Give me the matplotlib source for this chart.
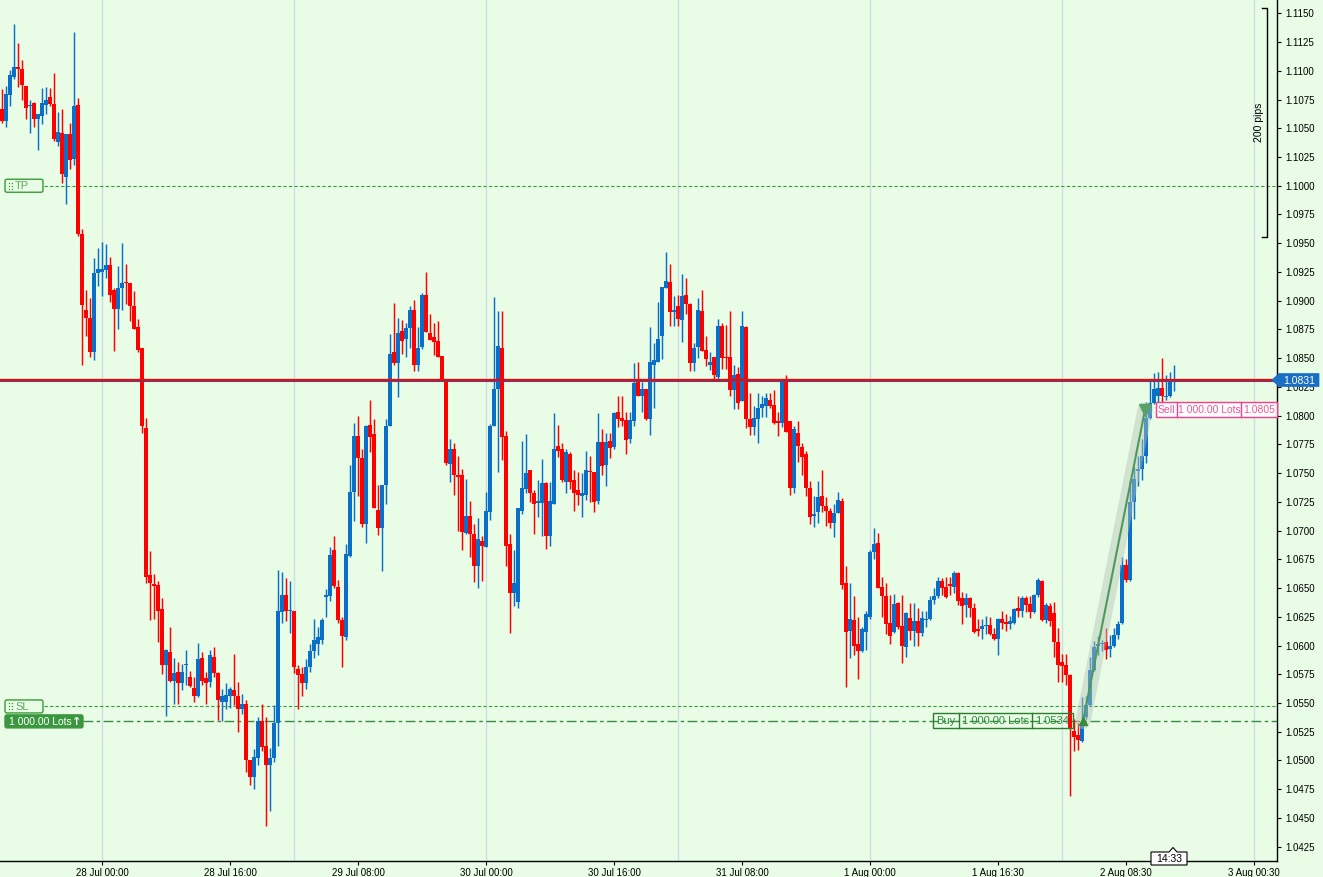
import numpy as np
import matplotlib
matplotlib.use("Agg")
import matplotlib.pyplot as plt
from matplotlib.patches import Rectangle, FancyBboxPatch, Polygon

plt.rcParams['font.family'] = ['Liberation Sans', 'DejaVu Sans']

# 30-minute candles, prices in units of 0.0001
opens = [
    11067, 11056, 11079, 11095, 11103, 11102, 11087, 11069, 11072, 11058,
    11061, 11070, 11077, 11071, 11038, 11046, 11008, 11045, 11023, 11070,
    10958, 10892, 10885, 10855, 10924, 10925, 10927, 10931, 10909, 10893,
    10911, 10916, 10915, 10895, 10877, 10859, 10789, 10661, 10653, 10653,
    10632, 10583, 10594, 10569, 10577, 10567, 10583, 10573, 10563, 10556,
    10589, 10572, 10568, 10590, 10576, 10551, 10551, 10556, 10561, 10556,
    10545, 10549, 10500, 10486, 10502, 10534, 10513, 10496, 10502, 10533,
    10629, 10644, 10630, 10630, 10580, 10575, 10567, 10581, 10595, 10601,
    10605, 10642, 10643, 10683, 10651, 10622, 10607, 10678, 10734, 10782,
    10763, 10706, 10792, 10784, 10718, 10702, 10740, 10791, 10855, 10846,
    10874, 10867, 10876, 10892, 10844, 10860, 10905, 10872, 10868, 10865,
    10852, 10832, 10758, 10771, 10748, 10748, 10698, 10713, 10697, 10669,
    10691, 10686, 10716, 10791, 10823, 10859, 10782, 10688, 10646, 10638,
    10717, 10736, 10753, 10733, 10724, 10724, 10741, 10695, 10723, 10774,
    10771, 10742, 10767, 10744, 10735, 10730, 10731, 10752, 10751, 10726,
    10777, 10757, 10778, 10773, 10803, 10798, 10796, 10780, 10795, 10829,
    10817, 10823, 10797, 10844, 10847, 10869, 10911, 10916, 10890, 10895,
    10883, 10905, 10897, 10846, 10860, 10891, 10857, 10844, 10851, 10834,
    10878, 10851, 10851, 10822, 10836, 10813, 10877, 10797, 10790, 10797,
    10807, 10808, 10814, 10809, 10795, 10794, 10831, 10795, 10737, 10785,
    10773, 10767, 10737, 10713, 10716, 10730, 10721, 10717, 10707, 10715,
    10726, 10654, 10613, 10622, 10601, 10595, 10612, 10625, 10681, 10689,
    10651, 10643, 10620, 10612, 10637, 10617, 10599, 10624, 10613, 10621,
    10611, 10622, 10623, 10640, 10643, 10656, 10651, 10653, 10651, 10663,
    10641, 10635, 10641, 10633, 10614, 10614, 10617, 10618, 10610, 10606,
    10623, 10620, 10619, 10620, 10633, 10630, 10641, 10636, 10629, 10644,
    10656, 10622, 10634, 10628, 10603, 10586, 10583, 10574, 10526, 10522,
    10517, 10538, 10548, 10579, 10600, 10601, 10603, 10597, 10600, 10609,
    10620, 10670, 10657, 10725, 10752, 10754, 10765, 10798, 10811, 10817,
    10824, 10816, 10817, 10829,
]
highs = [
    11084, 11087, 11101, 11141, 11124, 11109, 11087, 11075, 11073, 11062,
    11085, 11086, 11085, 11098, 11064, 11067, 11045, 11055, 11134, 11076,
    10962, 10909, 10902, 10937, 10946, 10951, 10949, 10938, 10911, 10930,
    10950, 10932, 10915, 10908, 10884, 10859, 10798, 10682, 10662, 10656,
    10641, 10597, 10616, 10589, 10586, 10584, 10596, 10578, 10573, 10602,
    10594, 10577, 10596, 10599, 10577, 10562, 10567, 10564, 10593, 10568,
    10558, 10553, 10500, 10510, 10538, 10549, 10538, 10511, 10548, 10666,
    10664, 10659, 10656, 10630, 10583, 10581, 10588, 10601, 10623, 10616,
    10624, 10649, 10686, 10695, 10657, 10625, 10688, 10757, 10794, 10800,
    10771, 10792, 10814, 10797, 10740, 10740, 10797, 10871, 10898, 10885,
    10883, 10881, 10895, 10901, 10877, 10907, 10925, 10888, 10881, 10882,
    10852, 10832, 10780, 10776, 10765, 10754, 10745, 10726, 10706, 10711,
    10695, 10734, 10793, 10903, 10891, 10891, 10787, 10697, 10683, 10720,
    10778, 10784, 10753, 10735, 10744, 10762, 10742, 10742, 10802, 10792,
    10776, 10771, 10768, 10753, 10751, 10750, 10769, 10765, 10751, 10802,
    10788, 10785, 10785, 10803, 10817, 10817, 10803, 10803, 10846, 10847,
    10829, 10823, 10877, 10863, 10899, 10912, 10942, 10932, 10904, 10905,
    10923, 10920, 10898, 10863, 10902, 10909, 10869, 10855, 10851, 10884,
    10881, 10879, 10891, 10844, 10842, 10891, 10878, 10820, 10808, 10820,
    10817, 10820, 10820, 10822, 10803, 10831, 10835, 10795, 10791, 10795,
    10776, 10769, 10743, 10730, 10743, 10753, 10729, 10720, 10723, 10734,
    10728, 10669, 10654, 10643, 10625, 10616, 10630, 10683, 10702, 10698,
    10660, 10654, 10644, 10645, 10638, 10644, 10629, 10637, 10637, 10633,
    10630, 10630, 10643, 10650, 10660, 10659, 10660, 10660, 10665, 10664,
    10647, 10646, 10642, 10637, 10623, 10623, 10626, 10625, 10615, 10624,
    10630, 10627, 10626, 10633, 10643, 10643, 10643, 10643, 10645, 10659,
    10657, 10637, 10637, 10638, 10615, 10593, 10593, 10575, 10536, 10533,
    10555, 10556, 10590, 10604, 10608, 10605, 10615, 10609, 10615, 10621,
    10677, 10675, 10744, 10755, 10765, 10780, 10812, 10832, 10837, 10838,
    10850, 10835, 10838, 10844,
]
lows = [
    11055, 11051, 11069, 11093, 11086, 11075, 11058, 11046, 11051, 11031,
    11054, 11062, 11069, 11039, 11035, 11002, 10984, 11015, 11018, 10956,
    10844, 10869, 10851, 10848, 10913, 10904, 10920, 10899, 10856, 10875,
    10892, 10897, 10882, 10875, 10855, 10785, 10654, 10622, 10623, 10603,
    10575, 10539, 10568, 10549, 10549, 10561, 10566, 10564, 10551, 10555,
    10566, 10549, 10564, 10573, 10535, 10534, 10545, 10546, 10548, 10525,
    10540, 10490, 10479, 10475, 10496, 10508, 10443, 10456, 10499, 10513,
    10620, 10621, 10611, 10576, 10545, 10556, 10562, 10577, 10589, 10592,
    10601, 10625, 10639, 10650, 10620, 10581, 10605, 10677, 10708, 10730,
    10703, 10689, 10768, 10720, 10696, 10665, 10723, 10791, 10844, 10816,
    10854, 10851, 10859, 10839, 10839, 10858, 10873, 10866, 10853, 10851,
    10830, 10757, 10742, 10731, 10700, 10683, 10697, 10677, 10655, 10650,
    10656, 10686, 10709, 10791, 10751, 10761, 10669, 10611, 10634, 10633,
    10714, 10733, 10725, 10697, 10712, 10695, 10684, 10687, 10723, 10764,
    10742, 10733, 10736, 10717, 10722, 10712, 10727, 10725, 10716, 10723,
    10748, 10739, 10763, 10771, 10790, 10791, 10767, 10776, 10791, 10817,
    10803, 10796, 10783, 10807, 10847, 10849, 10911, 10878, 10878, 10878,
    10864, 10888, 10839, 10839, 10850, 10856, 10843, 10840, 10831, 10831,
    10841, 10841, 10817, 10806, 10806, 10813, 10789, 10783, 10783, 10776,
    10799, 10799, 10807, 10793, 10782, 10790, 10786, 10731, 10733, 10760,
    10748, 10730, 10706, 10703, 10707, 10716, 10704, 10702, 10694, 10715,
    10649, 10564, 10589, 10592, 10571, 10594, 10596, 10623, 10675, 10650,
    10625, 10610, 10601, 10611, 10614, 10585, 10590, 10605, 10600, 10600,
    10608, 10616, 10622, 10636, 10641, 10644, 10641, 10644, 10646, 10635,
    10619, 10625, 10625, 10611, 10608, 10606, 10610, 10609, 10605, 10592,
    10614, 10613, 10614, 10619, 10625, 10625, 10629, 10624, 10628, 10642,
    10621, 10620, 10617, 10590, 10568, 10568, 10566, 10469, 10508, 10509,
    10516, 10536, 10547, 10578, 10592, 10595, 10588, 10590, 10599, 10606,
    10619, 10655, 10656, 10710, 10739, 10744, 10759, 10797, 10810, 10811,
    10812, 10814, 10816, 10821,
]
closes = [
    11056, 11080, 11096, 11103, 11102, 11088, 11068, 11070, 11058, 11062,
    11072, 11075, 11071, 11041, 11047, 11010, 11045, 11022, 11069, 10958,
    10896, 10885, 10855, 10924, 10928, 10928, 10931, 10905, 10893, 10911,
    10915, 10915, 10895, 10875, 10857, 10791, 10660, 10654, 10652, 10630,
    10583, 10596, 10569, 10576, 10567, 10577, 10584, 10565, 10556, 10588,
    10569, 10567, 10592, 10576, 10553, 10556, 10557, 10562, 10556, 10545,
    10549, 10500, 10486, 10503, 10534, 10512, 10496, 10502, 10533, 10630,
    10644, 10630, 10631, 10581, 10574, 10567, 10581, 10595, 10605, 10607,
    10622, 10644, 10679, 10652, 10622, 10608, 10680, 10734, 10782, 10763,
    10706, 10791, 10781, 10720, 10702, 10740, 10791, 10854, 10846, 10872,
    10865, 10876, 10892, 10844, 10859, 10905, 10873, 10866, 10864, 10851,
    10831, 10759, 10771, 10748, 10747, 10699, 10713, 10697, 10669, 10693,
    10687, 10717, 10791, 10823, 10861, 10781, 10687, 10646, 10654, 10720,
    10737, 10750, 10733, 10723, 10726, 10741, 10695, 10726, 10771, 10769,
    10744, 10768, 10742, 10733, 10731, 10733, 10753, 10751, 10725, 10777,
    10756, 10777, 10772, 10802, 10797, 10795, 10779, 10796, 10828, 10817,
    10823, 10797, 10847, 10848, 10867, 10912, 10917, 10890, 10892, 10884,
    10904, 10897, 10846, 10859, 10892, 10856, 10849, 10847, 10835, 10878,
    10850, 10850, 10822, 10835, 10811, 10878, 10797, 10790, 10798, 10807,
    10810, 10815, 10808, 10794, 10794, 10831, 10786, 10737, 10788, 10774,
    10764, 10737, 10712, 10714, 10729, 10721, 10717, 10707, 10715, 10727,
    10653, 10612, 10623, 10600, 10595, 10614, 10627, 10681, 10688, 10650,
    10643, 10619, 10608, 10636, 10616, 10600, 10628, 10613, 10621, 10611,
    10624, 10623, 10640, 10643, 10656, 10650, 10642, 10652, 10663, 10639,
    10634, 10641, 10633, 10612, 10613, 10617, 10618, 10610, 10606, 10623,
    10620, 10619, 10621, 10632, 10630, 10641, 10635, 10629, 10644, 10657,
    10622, 10635, 10621, 10603, 10583, 10582, 10574, 10527, 10520, 10518,
    10533, 10548, 10579, 10599, 10601, 10602, 10596, 10600, 10609, 10619,
    10670, 10657, 10725, 10745, 10754, 10765, 10798, 10811, 10823, 10824,
    10817, 10817, 10829, 10831,
]

x_labels = ['28 Jul 00:00', '28 Jul 16:00', '29 Jul 08:00', '30 Jul 00:00',
            '30 Jul 16:00', '31 Jul 08:00', '1 Aug 00:00', '1 Aug 16:30',
            '2 Aug 08:30', '3 Aug 00:30']
first_label_idx = 25

current_price = 1.0831
tp_price = 1.1000
sl_price = 1.0547
buy_price = 1.0534
sell_price = 1.0805
buy_idx, sell_idx = 270.25, 285.75
ruler_top, ruler_bottom = 1.1155, 1.0955

o = np.array(opens) / 1e4
h = np.array(highs) / 1e4
l = np.array(lows) / 1e4
c = np.array(closes) / 1e4
idx = np.arange(len(c))

BG = '#e8fce6'
RED = '#ff0000'
BLUE = '#0a6fc7'
GREEN = '#3a9a3a'
PINK = '#ff3b8d'

W, H = 1323, 877
AX_R, AX_B = 1277, 860.7
YMAX, YMIN = 1.11616, 1.04128
XMIN, XMAX = -0.5, 318.75

fig = plt.figure(figsize=(W / 100, H / 100), dpi=100, facecolor=BG)
ax = fig.add_axes([0, 1 - AX_B / H, AX_R / W, AX_B / H], facecolor=BG)
ax.set_xlim(XMIN, XMAX)
ax.set_ylim(YMIN, YMAX)

for s in ['left', 'top']:
    ax.spines[s].set_visible(False)
ax.spines['right'].set_linewidth(1)
ax.spines['bottom'].set_linewidth(1)

# daily grid lines
for g in range(first_label_idx, 320, 48):
    ax.axvline(g, color='#cddfe2', lw=1, zorder=0)

# candles
up = c >= o
cols = np.where(up, BLUE, RED)
ax.vlines(idx, l, h, colors=cols, lw=1.05, zorder=2)
body_lo = np.minimum(o, c)
body_h = np.maximum(np.abs(c - o), 0.00012)
ax.bar(idx, body_h, bottom=body_lo, width=0.8, color=cols, linewidth=0, zorder=3)

# price lines
ax.axhline(current_price - 0.00012, color='#1f5fae', lw=0.8, zorder=4)
ax.axhline(current_price, color=RED, lw=1.6, zorder=4)
ax.axhline(tp_price, xmin=44 / AX_R, color=GREEN, lw=0.8, dashes=(3, 2), zorder=1)
ax.axhline(sl_price, xmin=44 / AX_R, color=GREEN, lw=0.8, dashes=(3, 2), zorder=1)
ax.axhline(buy_price, xmin=83 / AX_R, color='#3d8a43', lw=1.0,
           dashes=(7, 2.5, 2.5, 2.5), zorder=1)

# trade path
ax.plot([buy_idx, sell_idx], [buy_price, sell_price], color='#b8c4b8', lw=11,
        alpha=0.45, solid_capstyle='round', zorder=5)
ax.plot([buy_idx, sell_idx], [buy_price, sell_price], color='#4c9a5c', lw=1.5, zorder=6)
ax.plot([buy_idx], [buy_price], marker='^', ms=6, color='#3a8a3a', zorder=7)
ax.plot([sell_idx], [sell_price], marker='v', ms=9, color='#5aa06a', zorder=7)

# axes ticks
yt = np.arange(1.0425, 1.11501, 0.0025)
ax.set_yticks(yt)
ax.set_yticklabels([f'{v:.4f}' for v in yt])
ax.yaxis.tick_right()
ax.set_xticks(np.arange(len(x_labels)) * 32 + first_label_idx)
ax.set_xticklabels(x_labels)
ax.tick_params(axis='both', labelsize=7, length=3, width=0.8, color='black')
ax.tick_params(axis='y', pad=3)
ax.tick_params(axis='x', pad=2)

# overlay in pixel coordinates for labels
ov = fig.add_axes([0, 0, 1, 1], facecolor='none')
ov.set_xlim(0, W)
ov.set_ylim(H, 0)
ov.axis('off')


def py(p):
    return (YMAX - p) / (YMAX - YMIN) * AX_B


def small_tag(price, text):
    y = py(price)
    ov.add_patch(FancyBboxPatch((5, y - 6.5), 38, 13, boxstyle='round,pad=0,rounding_size=2',
                                fc=BG, ec=GREEN, lw=1))
    for dx in (9, 11.5):
        for dy in (-3, 0, 3):
            ov.plot(dx, y + dy, marker='s', ms=0.9, color=GREEN, mew=0)
    ov.text(22, y + 0.5, text, color='#5fa75f', fontsize=8, ha='center', va='center')


small_tag(tp_price, 'TP')
small_tag(sl_price, 'SL')

yb = py(buy_price)
ov.add_patch(FancyBboxPatch((5, yb - 6.5), 78, 13, boxstyle='round,pad=0,rounding_size=2',
                            fc='#3b973f', ec='#3b973f', lw=1))
ov.text(40, yb + 0.5, '1 000.00 Lots', color='white', fontsize=7.5, ha='center', va='center')
ov.text(77, yb + 0.5, '↑', color='white', fontsize=8, ha='center', va='center',
        fontweight='bold', family=['DejaVu Sans'])

# buy label
ov.add_patch(Rectangle((933, yb - 8), 140, 15, fc='none', ec='#2a7d2a', lw=1))
for xd in (959, 1032):
    ov.plot([xd, xd], [yb - 8, yb + 7], color='#2a7d2a', lw=1)
ov.text(946, yb, 'Buy', color='#2e8b3a', fontsize=8, ha='center', va='center')
ov.text(995.5, yb, '1 000.00 Lots', color='#2e8b3a', fontsize=8, ha='center', va='center')
ov.text(1052.5, yb, f'{buy_price:.4f}', color='#2e8b3a', fontsize=8, ha='center', va='center')

# sell label
ys = py(sell_price)
ov.add_patch(Rectangle((1156, ys - 7.5), 121, 15, fc='white', ec=PINK, lw=1, zorder=8))
for xd in (1177, 1241):
    ov.plot([xd, xd], [ys - 7.5, ys + 7.5], color=PINK, lw=1, zorder=9)
ov.text(1166.5, ys, 'Sell', color='#f0559a', fontsize=7.5, ha='center', va='center', zorder=9)
ov.text(1209, ys, '1 000.00 Lots', color='#f0559a', fontsize=7.5, ha='center', va='center', zorder=9)
ov.text(1259, ys, f'{sell_price:.4f}', color='#f0559a', fontsize=7.5, ha='center', va='center', zorder=9)

# current price tag
yc = py(current_price)
ov.add_patch(Polygon([(1272, yc), (1279, yc - 6.5), (1319, yc - 6.5), (1319, yc + 6.5),
                      (1279, yc + 6.5)], closed=True, fc='#1a6fc4', ec='#1a6fc4', lw=0.5))
ov.text(1299, yc + 0.5, f'{current_price:.4f}', color='white', fontsize=7.5,
        ha='center', va='center')

# 200 pips ruler
yt0, yt1 = py(ruler_top), py(ruler_bottom)
ov.plot([1262, 1266.5, 1266.5, 1262], [yt0, yt0, yt1, yt1], color='black', lw=1)
ov.text(1259, (yt0 + yt1) / 2, '200 pips', rotation=90, fontsize=7.5,
        ha='center', va='center')

# current time tag
ov.add_patch(Polygon([(1151, 852), (1169, 852), (1173, 847.5), (1177, 852), (1187, 852),
                      (1187, 865), (1151, 865)], closed=True, fc='white', ec='black', lw=0.8))
ov.text(1169, 859, '14:33', fontsize=7.5, ha='center', va='center')

fig.savefig('out.png', dpi=100, facecolor=BG)
